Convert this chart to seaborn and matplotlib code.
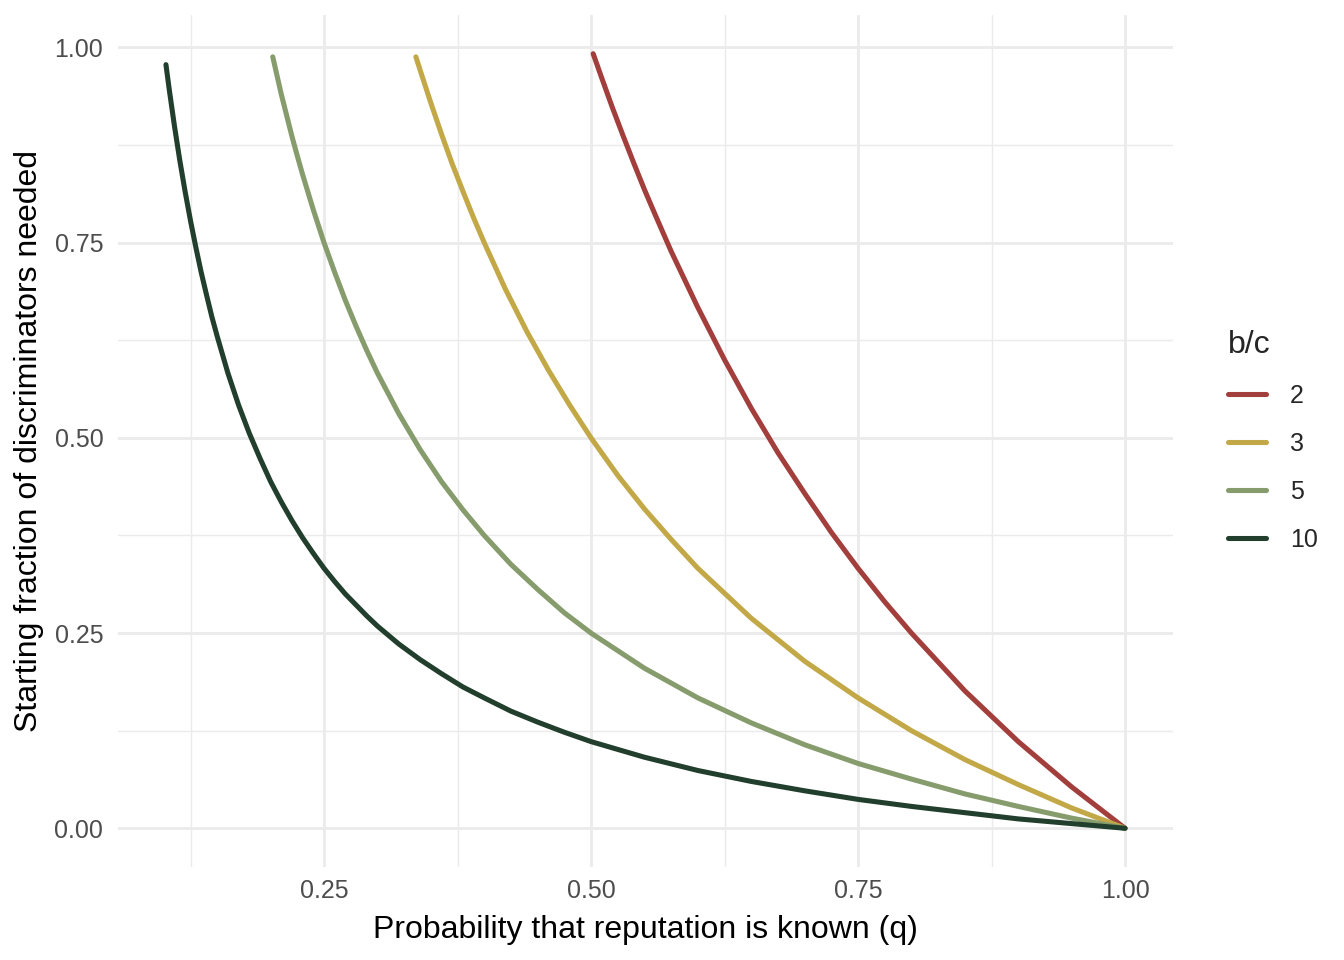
import matplotlib
matplotlib.use("Agg")
import matplotlib.pyplot as plt
import seaborn as sns
import pandas as pd

# Values
q_bc2 = [0.502, 0.51, 0.52, 0.53, 0.54, 0.55, 0.56, 0.575, 0.60, 0.625, 0.65, 0.675, 0.70, 0.725,
         0.75, 0.775, 0.80, 0.85, 0.90, 0.95, 1.00]
y_bc2 = [0.992, 0.961, 0.923, 0.887, 0.852, 0.818, 0.786, 0.739, 0.667, 0.600, 0.538, 0.481, 0.429, 0.379,
         0.333, 0.290, 0.250, 0.176, 0.111, 0.053, 0.000]

q_bc3 = [0.336, 0.34, 0.35, 0.36, 0.37, 0.38, 0.39, 0.40, 0.42, 0.44, 0.46, 0.48, 0.50, 0.525, 0.55,
         0.575, 0.60, 0.65, 0.70, 0.75, 0.80, 0.85, 0.90, 0.95, 1.00]
y_bc3 = [0.988, 0.971, 0.929, 0.889, 0.851, 0.816, 0.782, 0.750, 0.690, 0.636, 0.587, 0.542, 0.500, 0.452, 0.409,
         0.370, 0.333, 0.269, 0.214, 0.167, 0.125, 0.088, 0.056, 0.026, 0.000]

q_bc5 = [0.202, 0.205, 0.21, 0.215, 0.22, 0.225, 0.23, 0.24, 0.25, 0.26, 0.27, 0.28, 0.29, 0.30, 0.32,
         0.34, 0.36, 0.38, 0.40, 0.425, 0.45, 0.475, 0.50, 0.55, 0.60, 0.65, 0.70, 0.75, 0.80, 0.85,
         0.90, 0.95, 1.00]
y_bc5 = [0.988, 0.970, 0.940, 0.913, 0.886, 0.861, 0.837, 0.792, 0.750, 0.712, 0.676, 0.643, 0.612, 0.583, 0.531,
         0.485, 0.444, 0.408, 0.375, 0.338, 0.306, 0.276, 0.250, 0.205, 0.167, 0.135, 0.107, 0.083, 0.063, 0.044,
         0.028, 0.013, 0.000]

q_bc10 = [0.102, 0.105, 0.11, 0.115, 0.12, 0.125, 0.13, 0.135, 0.14, 0.145, 0.15, 0.16, 0.17, 0.18, 0.19,
          0.20, 0.21, 0.22, 0.23, 0.24, 0.25, 0.26, 0.27, 0.28, 0.29, 0.30, 0.32, 0.34, 0.36, 0.38,
          0.40, 0.425, 0.45, 0.475, 0.50, 0.525, 0.55, 0.60, 0.65, 0.70, 0.75, 0.80, 0.85, 0.90, 0.95, 1.00]
y_bc10 = [0.978, 0.947, 0.899, 0.855, 0.815, 0.778, 0.744, 0.712, 0.683, 0.655, 0.630, 0.583, 0.542, 0.506, 0.474,
          0.444, 0.418, 0.394, 0.372, 0.352, 0.333, 0.316, 0.300, 0.286, 0.272, 0.259, 0.236, 0.216, 0.198, 0.181,
          0.167, 0.150, 0.136, 0.123, 0.111, 0.101, 0.091, 0.074, 0.060, 0.048, 0.037, 0.028, 0.020, 0.012, 0.006, 0.000]

bc_labels = ["2", "3", "5", "10"]
colors = ["#A23E3B", "#C2A847", "#869C6C", "#213F2C"]

x_ticks = [0.25, 0.50, 0.75, 1.00]
x_ticklabels = ["0.25", "0.50", "0.75", "1.00"]
y_ticks = [0.00, 0.25, 0.50, 0.75, 1.00]
y_ticklabels = ["0.00", "0.25", "0.50", "0.75", "1.00"]

frames = []
for lab, qs, ys in zip(bc_labels, [q_bc2, q_bc3, q_bc5, q_bc10], [y_bc2, y_bc3, y_bc5, y_bc10]):
    frames.append(pd.DataFrame({"q": qs, "y": ys, "b/c": lab}))
df = pd.concat(frames, ignore_index=True)

sns.set_theme(style="white")
plt.rcParams["font.family"] = ["Liberation Sans", "DejaVu Sans"]

fig = plt.figure(figsize=(7, 5), dpi=192)
ax = fig.add_axes([118/1344, 1 - 867/960, (1173 - 118)/1344, (867 - 15)/960])

sns.lineplot(data=df, x="q", y="y", hue="b/c", hue_order=bc_labels,
             palette=dict(zip(bc_labels, colors)), linewidth=1.9,
             sort=True, estimator=None, ax=ax, legend=True)
for ln in ax.get_lines():
    ln.set_solid_joinstyle("round")

xmin, xmax = 0.102, 1.0
xr = xmax - xmin
ax.set_xlim(xmin - 0.05 * xr, xmax + 0.05 * xr)
ymin, ymax = 0.0, 0.992
yr = ymax - ymin
ax.set_ylim(ymin - 0.05 * yr, ymax + 0.05 * yr)

ax.set_xticks(x_ticks)
ax.set_xticklabels(x_ticklabels)
ax.set_yticks(y_ticks)
ax.set_yticklabels(y_ticklabels)
ax.set_xticks([0.125, 0.375, 0.625, 0.875], minor=True)
ax.set_yticks([0.125, 0.375, 0.625, 0.875], minor=True)

ax.grid(which="major", color="#EBEBEB", linewidth=1.07)
ax.grid(which="minor", color="#EBEBEB", linewidth=0.53)
ax.set_axisbelow(True)
for s in ax.spines.values():
    s.set_visible(False)
ax.tick_params(which="both", length=0)
ax.tick_params(axis="both", labelsize=9.4, labelcolor="#4D4D4D")
ax.tick_params(axis="y", pad=5.5)
ax.tick_params(axis="x", pad=4.5)

ax.set_xlabel("Probability that reputation is known (q)", fontsize=12, color="black", labelpad=4.5)
ax.set_ylabel("Starting fraction of discriminators needed", fontsize=12, color="black", labelpad=4)

leg = ax.legend(title="b/c", loc="center left", bbox_to_anchor=(1.043, 0.5),
                frameon=False, fontsize=9.4, title_fontsize=12,
                handlelength=1.5, handletextpad=0.95, labelspacing=0.95,
                borderaxespad=0)
leg._legend_box.align = "left"
for line in leg.get_lines():
    line.set_linewidth(1.9)

fig.savefig("out.png", dpi=192)
